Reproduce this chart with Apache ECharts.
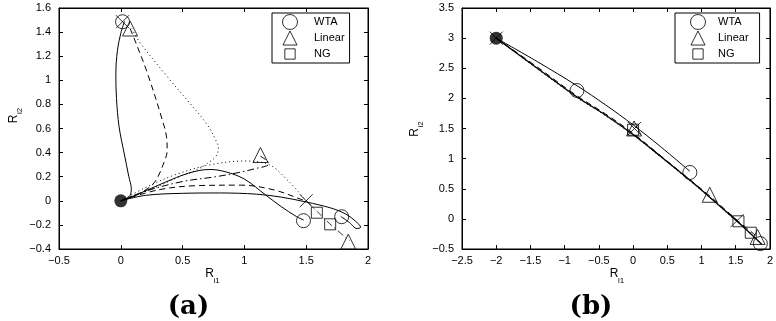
<!DOCTYPE html>
<html><head><meta charset="utf-8">
<script src="https://cdn.jsdelivr.net/npm/echarts@6/dist/echarts.min.js"></script>
<style>html,body{margin:0;padding:0;background:#fff}#c{width:776px;height:321px}</style>
</head><body><div id="c"></div>
<script>
// ---------- tick labels ----------
const aXTicks = [-0.5, 0, 0.5, 1, 1.5, 2];
const aYTicks = [-0.4, -0.2, 0, 0.2, 0.4, 0.6, 0.8, 1, 1.2, 1.4, 1.6];
const bXTicks = [-2.5, -2, -1.5, -1, -0.5, 0, 0.5, 1, 1.5, 2];
const bYTicks = [-0.5, 0, 0.5, 1, 1.5, 2, 2.5, 3, 3.5];
const legendNames = ['WTA', 'Linear', 'NG'];
const panelLabels = ['(a)', '(b)'];

// ---------- panel (a) trajectories ----------
const aSolidUp = [[0.03,1.49],[0.0,1.39],[-0.027,1.25],[-0.04,1.05],[-0.035,0.85],[-0.014,0.615],[0.03,0.38],[0.065,0.2],[0.085,0.1],[0.075,0.045],[0.04,0.015],[0,0]];
const aDashUp = [[0.075,1.43],[0.107,1.35],[0.215,1.06],[0.336,0.67],[0.37,0.53],[0.375,0.42],[0.35,0.32],[0.27,0.15],[0.15,0.06],[0.05,0.015],[0,0]];
const aDotUp = [[0.09,1.43],[0.15,1.32],[0.376,1.03],[0.55,0.82],[0.70,0.63],[0.77,0.5],[0.79,0.44],[0.77,0.37],[0.70,0.31],[0.6,0.25],[0.45,0.19],[0.3,0.12],[0.12,0.045],[0,0]];
const aSolidHump = [[0,0],[0.15,0.06],[0.35,0.15],[0.55,0.23],[0.72,0.26],[0.85,0.24],[1.0,0.18],[1.17,0.05],[1.3,-0.05],[1.42,-0.13],[1.48,-0.16]];
const aSolidFlat = [[0,0],[0.2,0.045],[0.5,0.062],[0.8,0.065],[1.1,0.055],[1.3,0.03],[1.5,-0.01],[1.7,-0.06],[1.82,-0.11],[1.9,-0.17],[1.94,-0.22],[1.91,-0.23],[1.85,-0.18],[1.78,-0.13]];
const aDashDotA = [[0,0],[0.2,0.08],[0.5,0.16],[0.77,0.2],[0.98,0.24],[1.1,0.27],[1.18,0.29],[1.2,0.31],[1.18,0.335],[1.13,0.37]];
const aDotA = [[0,0],[0.2,0.11],[0.45,0.22],[0.73,0.3],[1.0,0.33],[1.2,0.3],[1.35,0.17],[1.5,0.0]];
const aDashB = [[0,0],[0.3,0.09],[0.6,0.125],[0.97,0.13],[1.24,0.09],[1.465,0.01],[1.5,0]];
const aDashDotB = [[1.5,0],[1.59,-0.09],[1.69,-0.19],[1.85,-0.33]];

// ---------- panel (a) markers ----------
const aWTA = [[0.014,1.486],[1.478,-0.165],[1.787,-0.132]];
const aLinear = [[0.075,1.43],[1.13,0.38],[1.84,-0.34]];
const aNG = [[1.586,-0.099],[1.694,-0.195]];
const aCross = [[0.014,1.486],[1.5,0.0]];
const aStart = [[0,0]];

// ---------- panel (b) trajectories ----------
const bThin = [[-2,3],[-1.4,2.61],[-0.82,2.21],[-0.4,1.89],[0,1.56],[0.4,1.2],[0.83,0.79]];
const bSolid = [[-2,3],[-1.4,2.5],[-0.83,2.03],[-0.4,1.72],[0,1.40],[0.4,1.04],[0.81,0.66],[1.1,0.38],[1.5,-0.02],[1.88,-0.42]];
const bDash = [[-2,3],[-1.4,2.52],[-0.83,2.05],[-0.4,1.74],[0,1.42],[0.4,1.05],[0.81,0.67],[1.12,0.38],[1.54,-0.04],[1.82,-0.3]];
const bDot = [[-2,3],[-1.4,2.49],[-0.83,2.02],[-0.4,1.71],[0,1.39],[0.4,1.03],[0.81,0.65],[1.1,0.37],[1.5,-0.03],[1.72,-0.23]];

// ---------- panel (b) markers ----------
const bWTA = [[-0.82,2.13],[0.83,0.77],[1.86,-0.41]];
const bLinear = [[0.015,1.5],[1.12,0.40],[1.82,-0.30]];
const bNG = [[0.0,1.48],[1.54,-0.04],[1.72,-0.23]];
const bCross = [[-2,3],[0.02,1.5],[1.52,-0.03]];
const bStart = [[-2,3]];

// ---------- helpers ----------
const FONT = 'Liberation Sans';
function fmt(v){ return String(Math.round(v*10)/10).replace('-', '\u2212'); }
function range(t){ return {min:t[0], max:t[t.length-1], interval: Math.round((t[1]-t[0])*1000)/1000}; }
function xAx(grid, ticks, top){
  return Object.assign({type:'value', gridIndex:grid, position: top?'top':'bottom',
    axisLine:{show:true, onZero:false, lineStyle:{color:'#000', width:1}},
    axisTick:{show:true, inside:true, length:4, lineStyle:{color:'#000', width:1}},
    axisLabel:{show:!top, color:'#000', fontSize:11, fontFamily:FONT, margin:6, formatter:fmt, showMinLabel:true, showMaxLabel:true},
    splitLine:{show:false}}, range(ticks));
}
function yAx(grid, ticks, right){
  return Object.assign({type:'value', gridIndex:grid, position: right?'right':'left',
    axisLine:{show:true, onZero:false, lineStyle:{color:'#000', width:1}},
    axisTick:{show:true, inside:true, length:4, lineStyle:{color:'#000', width:1}},
    axisLabel:{show:!right, color:'#000', fontSize:11, fontFamily:FONT, margin:8, formatter:fmt, showMinLabel:true, showMaxLabel:true},
    splitLine:{show:false}}, range(ticks));
}
function line(data, ax, type, width){
  return {type:'line', data:data, xAxisIndex:ax, yAxisIndex:ax, symbol:'none', smooth:0.35,
    silent:true, z:2, lineStyle:{color:'#000', width:width||1, type:type||'solid'}};
}
const hollow = {color:'rgba(0,0,0,0)', borderColor:'#000', borderWidth:1};
function marks(name, data, ax, symbol, size, style){
  return {type:'scatter', name:name, data:data, xAxisIndex:ax, yAxisIndex:ax, symbol:symbol, symbolSize:size,
    silent:true, z:5, itemStyle: style || hollow};
}
const CROSS = 'path://M0,0L10,10M10,0L0,10';
const NG_ICON = 'path://M0,0M16,16M2.5,2.5L13.5,2.5L13.5,13.5L2.5,13.5Z';
const TRI_ICON = 'path://M0,0M16,16M8,0.5L15.5,15.5L0.5,15.5Z';
const CIRC_ICON = 'path://M0,0M16,16M8,0.5A7.5,7.5,0,1,1,7.99,0.5Z';
const DOT = [1,3];
const DASH = [6,4];
const DASHDOT = [7,3,1.5,3];

function legendFor(left, iw, pad){
  return {data:[{name:legendNames[0], icon:'circle'},{name:legendNames[1], icon:TRI_ICON},{name:legendNames[2], icon:NG_ICON}],
    orient:'vertical', left:left, top:13, itemWidth:iw, itemHeight:15, itemGap:0, padding:pad,
    borderColor:'#000', borderWidth:1, backgroundColor:'#fff', borderRadius:0, selectedMode:false,
    textStyle:{fontSize:11, color:'#000', fontFamily:FONT},
    itemStyle:{color:'rgba(0,0,0,0)', borderColor:'#000', borderWidth:1}};
}
function tx(x, y, text, size, rot){
  return {type:'text', x:x, y:y, rotation:rot||0, silent:true,
    style:{text:text, font: size+'px '+FONT, fill:'#000', align:'center', verticalAlign:'middle'}};
}

const option = {
  animation:false,
  backgroundColor:'#fff',
  grid:[
    {left:59, top:8, width:309, height:241, show:true, borderColor:'#000', borderWidth:1, backgroundColor:'#fff'},
    {left:462, top:8, width:310, height:241, show:true, borderColor:'#000', borderWidth:1, backgroundColor:'#fff'}
  ],
  xAxis:[ xAx(0,aXTicks,false), xAx(0,aXTicks,true), xAx(1,bXTicks,false), xAx(1,bXTicks,true) ],
  yAxis:[ yAx(0,aYTicks,false), yAx(0,aYTicks,true), yAx(1,bYTicks,false), yAx(1,bYTicks,true) ],
  legend:[ legendFor(272, 38, [1,5,1,10]), legendFor(675, 30, [1,11,1,15]) ],
  series:[
    line(aSolidUp,0,'solid'), line(aDashUp,0,DASH), line(aDotUp,0,DOT),
    line(aSolidHump,0,'solid'), line(aSolidFlat,0,'solid'), line(aDashDotA,0,DASHDOT),
    line(aDotA,0,DOT), line(aDashB,0,DASH), line(aDashDotB,0,DASHDOT,0.8),
    marks('WTA', aWTA, 0, 'circle', 14), marks('Linear', aLinear, 0, 'triangle', 15),
    marks('NG', aNG, 0, 'rect', 11), marks('cross', aCross, 0, CROSS, 13),
    marks('start', aStart, 0, 'circle', 13, {color:'#000'}),
    line(bThin,2,'solid'), line(bSolid,2,'solid',1.3), line(bDash,2,DASH), line(bDot,2,DOT),
    marks('WTA', bWTA, 2, 'circle', 14), marks('Linear', bLinear, 2, 'triangle', 15),
    marks('NG', bNG, 2, 'rect', 11), marks('cross', bCross, 2, CROSS, 13),
    marks('start', bStart, 2, 'circle', 13, {color:'#000'})
  ],
  graphic:[
    tx(209.5, 274, 'R', 12), tx(216.5, 281, 'i1', 8),
    tx(614, 274, 'R', 12), tx(621, 281, 'i1', 8),
    tx(14, 119, 'R', 12, Math.PI/2), tx(20, 111, 'i2', 8, Math.PI/2),
    tx(415, 132.5, 'R', 12, Math.PI/2), tx(421, 124.5, 'i2', 8, Math.PI/2),
    {type:'text', x:188.5, y:307, silent:true, style:{text:panelLabels[0], font:'bold 26px "DejaVu Serif"', fill:'#000', align:'center', verticalAlign:'middle'}},
    {type:'text', x:591, y:307, silent:true, style:{text:panelLabels[1], font:'bold 26px "DejaVu Serif"', fill:'#000', align:'center', verticalAlign:'middle'}}
  ]
};
const chart = echarts.init(document.getElementById('c'), null, {renderer:'canvas'});
chart.setOption(option);
</script></body></html>
